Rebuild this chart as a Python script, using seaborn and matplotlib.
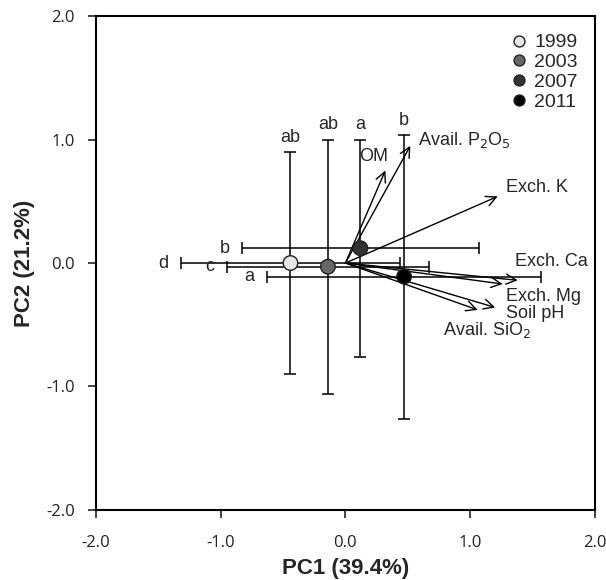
import numpy as np
import pandas as pd
import seaborn as sns
import matplotlib.pyplot as plt

# year scores on PC1 / PC2 with error ranges
years = ["1999", "2003", "2007", "2011"]
pc1 = [-0.44, -0.14, 0.12, 0.47]
pc2 = [0.00, -0.03, 0.12, -0.11]
pc1_err = [0.88, 0.81, 0.95, 1.10]
pc2_err = [0.90, 1.03, 0.88, 1.15]
pc1_letters = ["d", "c", "b", "a"]
pc2_letters = ["ab", "ab", "a", "b"]
year_colors = ["#e6e6e6", "#666666", "#333333", "#000000"]

# variable loadings
variables = ["OM", "Avail. P$_2$O$_5$", "Exch. K", "Exch. Ca", "Exch. Mg",
             "Soil pH", "Avail. SiO$_2$"]
load_x = [0.32, 0.52, 1.22, 1.38, 1.26, 1.20, 1.06]
load_y = [0.75, 0.95, 0.54, -0.14, -0.17, -0.36, -0.38]
label_x = [0.11, 0.58, 1.29, 1.36, 1.29, 1.29, 0.78]
label_y = [0.86, 1.00, 0.61, 0.01, -0.27, -0.41, -0.54]

sns.set_style("ticks")
plt.rcParams["font.family"] = ["Arial", "Liberation Sans", "DejaVu Sans"]

df = pd.DataFrame({"PC1": pc1, "PC2": pc2, "Year": years})

fig = plt.figure(figsize=(6.06, 5.8), dpi=100)
ax = fig.add_axes([0.158, 0.121, 0.824, 0.851])

ax.errorbar(pc1, pc2, xerr=pc1_err, yerr=pc2_err, fmt="none", ecolor="black",
            elinewidth=1.1, capsize=4, capthick=1.1, zorder=2)

for i in range(len(years)):
    ax.text(pc1[i] - pc1_err[i] - 0.1, pc2[i], pc1_letters[i], ha="right",
            va="center", fontsize=13)
    ax.text(pc1[i], pc2[i] + pc2_err[i] + 0.05, pc2_letters[i], ha="center",
            va="bottom", fontsize=13)

for i in range(len(variables)):
    ax.annotate("", xy=(load_x[i], load_y[i]), xytext=(0, 0),
                arrowprops=dict(arrowstyle="->", color="black", lw=1.0,
                                mutation_scale=18, shrinkA=0, shrinkB=0),
                zorder=3)
    ax.text(label_x[i], label_y[i], variables[i], ha="left", va="center",
            fontsize=13)

sns.scatterplot(data=df, x="PC1", y="PC2", hue="Year", palette=year_colors,
                s=110, edgecolor="#222222", linewidth=1.0, zorder=4, ax=ax)

ax.set_xlim(-2, 2)
ax.set_ylim(-2, 2)
ticks = [-2, -1, 0, 1, 2]
tick_labels = ["-2.0", "-1.0", "0.0", "1.0", "2.0"]
ax.set_xticks(ticks)
ax.set_yticks(ticks)
ax.set_xticklabels(tick_labels, fontsize=12, family="Open Sans", color="#222222")
ax.set_yticklabels(tick_labels, fontsize=12, family="Open Sans", color="#222222")
ax.tick_params(axis="x", direction="out", length=6, width=1.2, pad=12)
ax.tick_params(axis="y", direction="out", length=6, width=1.2, pad=9)
for s in ax.spines.values():
    s.set_linewidth(1.5)
    s.set_color("black")

ax.set_xlabel("PC1 (39.4%)", fontsize=16, fontweight="bold", labelpad=5)
ax.set_ylabel("PC2 (21.2%)", fontsize=16, fontweight="bold", labelpad=8)

leg = ax.legend(loc="upper right", frameon=False, fontsize=14, title=None,
                handletextpad=-0.2, labelspacing=0.12, borderaxespad=0.3,
                markerscale=0.75, borderpad=0.6)

fig.savefig("out.png", dpi=100)
